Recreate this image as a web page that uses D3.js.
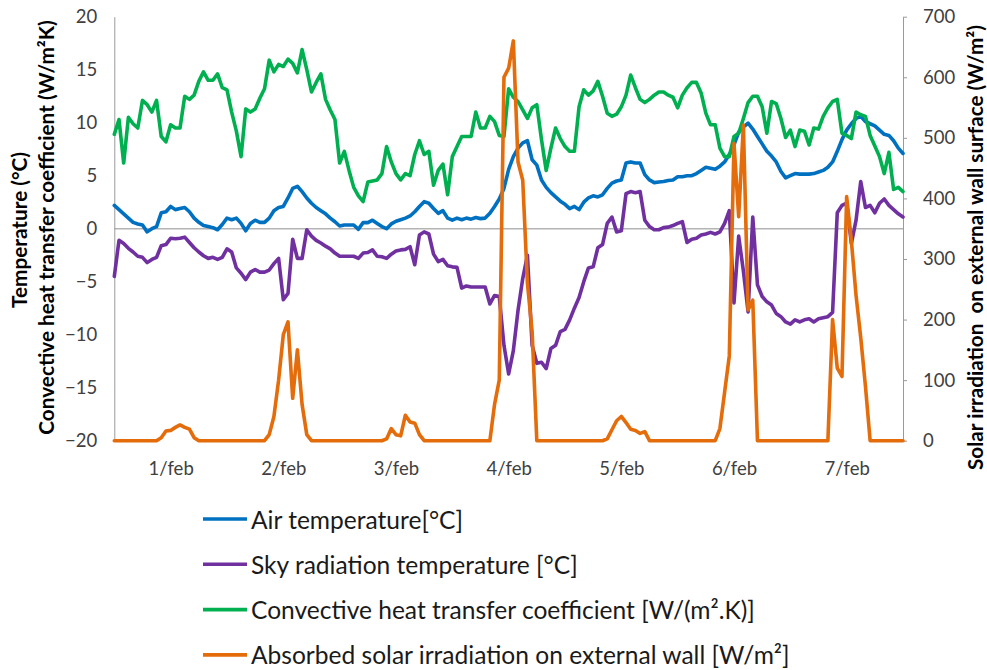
<!DOCTYPE html>
<html>
<head>
<meta charset="utf-8">
<script src="https://cdn.jsdelivr.net/npm/d3@7"></script>
<style>
  body { margin: 0; background: #ffffff; }
  svg { display: block; }
</style>
</head>
<body>
<svg id="chart" width="987" height="670"></svg>
<script>
// Hourly readings, 1 Feb 00:00 through 8 Feb 00:00 (169 values per series)
const dayLabels = ["1/feb", "2/feb", "3/feb", "4/feb", "5/feb", "6/feb", "7/feb"];

const airTemp = [
  2.2, 1.8, 1.4, 1.0, 0.6, 0.45, 0.35, -0.3, 0.0, 0.2, 1.5, 1.6, 2.1, 1.8, 1.9, 2.0, 1.6, 1.0, 0.6, 0.3, 0.2, 0.1, -0.1, 0.4,
  1.0, 0.85, 1.0, 0.5, -0.2, 0.5, 0.8, 0.6, 0.6, 1.0, 1.7, 2.0, 2.1, 2.9, 3.8, 4.0, 3.5, 2.9, 2.4, 2.0, 1.7, 1.4, 1.0, 0.66,
  0.25, 0.35, 0.35, 0.35, -0.06, 0.57, 0.57, 0.8, 0.5, 0.2, 0.0, 0.45, 0.7, 0.85, 1.0, 1.2, 1.6, 2.1, 2.55, 2.4, 1.9, 1.45, 1.7, 1.0,
  0.8, 1.0, 0.85, 1.0, 0.9, 1.05, 0.95, 1.0, 1.45, 2.1, 2.8, 3.8, 5.6, 6.8, 7.6, 8.1, 8.3, 6.5, 6.0, 4.6, 3.9, 3.4, 3.0, 2.6,
  2.3, 1.9, 2.1, 1.8, 2.5, 2.9, 3.1, 3.0, 3.2, 3.8, 4.3, 4.5, 4.6, 6.2, 6.3, 6.2, 6.2, 5.1, 4.6, 4.35, 4.4, 4.45, 4.55, 4.6,
  4.9, 4.9, 5.0, 5.0, 5.2, 5.5, 5.8, 5.7, 5.6, 5.9, 6.3, 7.0, 7.9, 9.1, 9.6, 9.95, 9.4, 8.7, 8.0, 7.3, 6.85, 6.3, 5.4, 4.8,
  5.0, 5.2, 5.15, 5.15, 5.15, 5.2, 5.35, 5.5, 5.8, 6.3, 7.3, 8.4, 9.3, 9.9, 10.4, 10.6, 10.1, 9.9, 9.7, 9.3, 8.9, 8.8, 8.3, 7.6, 7.1
];

const skyTemp = [
  -4.5, -1.1, -1.4, -1.85, -2.2, -2.6, -2.7, -3.2, -2.9, -2.7, -1.6, -1.5, -0.9, -0.95, -0.9, -0.8, -1.3, -1.8, -2.2, -2.55, -2.8, -2.7, -2.9, -2.7,
  -1.9, -2.2, -3.7, -4.2, -4.8, -4.1, -3.85, -4.1, -4.1, -3.9, -3.3, -2.8, -6.7, -6.1, -1.0, -2.8, -2.8, -0.1, -0.7, -1.1, -1.35, -1.65, -1.9, -2.3,
  -2.6, -2.6, -2.6, -2.6, -2.8, -2.3, -2.25, -2.0, -2.6, -2.65, -2.8, -2.4, -2.1, -2.0, -1.95, -1.7, -3.4, -0.6, -0.3, -0.5, -2.4, -3.1, -2.9, -3.5,
  -3.6, -3.65, -5.6, -5.4, -5.5, -5.5, -5.5, -5.5, -7.1, -6.3, -6.4, -11.0, -13.7, -11.5, -7.7, -4.7, -2.5, -11.0, -12.7, -12.6, -13.2, -11.3, -11.0, -9.7,
  -9.5, -8.6, -7.5, -6.5, -5.0, -3.7, -3.6, -1.8, -1.5, 0.5, 1.1, -0.3, -0.2, 3.3, 3.5, 3.4, 3.5, 0.8, 0.2, -0.1, -0.1, 0.1, 0.15, 0.3,
  0.5, 0.66, -1.3, -1.0, -0.9, -0.6, -0.5, -0.35, -0.5, -0.3, 0.5, 1.7, -7.0, -0.7, -4.0, -7.85, 1.1, -5.3, -6.4, -6.9, -7.2, -8.0, -8.3, -8.8,
  -9.0, -8.6, -8.8, -8.6, -8.5, -8.8, -8.5, -8.4, -8.3, -7.9, 1.5, 2.2, 2.4, -1.4, 0.8, 4.45, 2.0, 2.2, 1.5, 2.4, 2.8, 2.2, 1.8, 1.4, 1.1
];

const convCoef = [
  8.9, 10.3, 6.2, 10.5, 9.9, 9.5, 12.1, 11.7, 11.0, 12.1, 8.7, 8.2, 9.8, 9.5, 9.5, 12.5, 12.2, 12.6, 13.9, 14.8, 14.0, 14.0, 14.6, 13.3,
  13.1, 11.0, 9.2, 6.8, 11.3, 11.0, 11.3, 12.3, 13.2, 15.9, 14.8, 15.5, 15.3, 16.0, 15.6, 14.7, 16.9, 15.0, 12.9, 13.8, 14.6, 12.2, 11.2, 10.3,
  6.2, 7.3, 5.5, 3.9, 3.1, 2.55, 4.4, 4.5, 4.6, 5.2, 7.75, 6.3, 5.2, 4.6, 5.2, 5.0, 7.0, 8.3, 7.0, 7.3, 4.1, 5.5, 6.1, 3.2,
  6.8, 7.75, 8.7, 8.7, 8.7, 11.0, 9.5, 9.5, 10.6, 10.1, 8.8, 8.7, 13.2, 12.4, 12.0, 11.2, 10.4, 11.4, 11.7, 8.4, 5.5, 7.6, 9.5, 8.5,
  7.75, 7.3, 7.3, 11.5, 13.1, 12.6, 13.0, 13.9, 12.5, 10.9, 10.6, 10.8, 11.5, 12.6, 14.5, 13.3, 12.2, 11.9, 12.2, 12.6, 12.9, 12.9, 12.6, 12.4,
  11.4, 12.6, 13.3, 13.8, 13.8, 12.8, 10.9, 9.8, 9.8, 7.6, 6.8, 6.8, 8.7, 9.0, 10.4, 11.9, 12.5, 12.5, 11.5, 9.0, 12.0, 11.8, 10.4, 8.6,
  9.3, 7.75, 9.3, 9.2, 7.9, 9.5, 9.4, 10.6, 11.4, 12.0, 12.2, 9.0, 8.8, 8.5, 11.0, 10.75, 10.6, 8.8, 7.8, 6.8, 5.2, 7.2, 3.7, 3.9, 3.5
];

const solarIrr = [
  0, 0, 0, 0, 0, 0, 0, 0, 0, 0, 5, 16, 17, 22, 26, 22, 19, 5, 0, 0, 0, 0, 0, 0,
  0, 0, 0, 0, 0, 0, 0, 0, 0, 10, 40, 100, 175, 196, 70, 150, 60, 10, 0, 0, 0, 0, 0, 0,
  0, 0, 0, 0, 0, 0, 0, 0, 0, 0, 3, 20, 10, 8, 42, 31, 29, 10, 0, 0, 0, 0, 0, 0,
  0, 0, 0, 0, 0, 0, 0, 0, 0, 60, 100, 600, 615, 660, 460, 430, 260, 180, 0, 0, 0, 0, 0, 0,
  0, 0, 0, 0, 0, 0, 0, 0, 0, 3, 18, 33, 40, 30, 19, 17, 12, 15, 0, 0, 0, 0, 0, 0,
  0, 0, 0, 0, 0, 0, 0, 0, 0, 20, 80, 140, 491, 370, 521, 216, 232, 0, 0, 0, 0, 0, 0, 0,
  0, 0, 0, 0, 0, 0, 0, 0, 0, 200, 120, 106, 403, 330, 240, 170, 90, 0, 0, 0, 0, 0, 0, 0, 0
];

const leftTicks = [20, 15, 10, 5, 0, -5, -10, -15, -20];
const rightTicks = [0, 100, 200, 300, 400, 500, 600, 700];

const seriesNames = [
  "Air temperature[°C]",
  "Sky radiation temperature [°C]",
  "Convective heat transfer coefficient [W/(m².K)]",
  "Absorbed solar irradiation on external wall [W/m²]"
];

const leftTitle = ["Temperature (°C)", "Convective heat transfer coefficient (W/m²K)"];
const rightTitle = "Solar irradiation\u00A0 on external wall surface (W/m²)";

// ---- layout ----
const FONT = "Lato, 'Open Sans', sans-serif";
const plot = { left: 114.3, right: 903, top: 16.7, bottom: 440.7 };
const svg = d3.select("#chart");

const x = d3.scaleLinear().domain([0, airTemp.length - 1]).range([plot.left, plot.right]);
const yL = d3.scaleLinear().domain([-20, 20]).range([plot.bottom, plot.top]);
const yR = d3.scaleLinear().domain([0, 700]).range([plot.bottom, plot.top]);

const AXIS_GREY = "#9a9a9a";
const TICK_TEXT = "#404040";

// horizontal axis line crossing at 0
svg.append("line")
  .attr("x1", plot.left).attr("x2", plot.right)
  .attr("y1", yL(0)).attr("y2", yL(0))
  .attr("stroke", "#b4b4b4").attr("stroke-width", 1.6);

// primary (left) axis
const gL = svg.append("g")
  .attr("transform", `translate(${plot.left},0)`)
  .call(d3.axisLeft(yL).tickValues(leftTicks).tickSize(0).tickPadding(17));
gL.attr("font-family", FONT).attr("font-size", 18.5);
gL.select(".domain").attr("stroke", AXIS_GREY).attr("stroke-width", 1);
gL.selectAll("text").attr("fill", TICK_TEXT);

// secondary (right) axis
const gR = svg.append("g")
  .attr("transform", `translate(${plot.right},0)`)
  .call(d3.axisRight(yR).tickValues(rightTicks).tickSizeInner(4).tickSizeOuter(0).tickPadding(16));
gR.attr("font-family", FONT).attr("font-size", 18.5);
gR.select(".domain").attr("stroke", AXIS_GREY).attr("stroke-width", 1);
gR.selectAll(".tick line").attr("stroke", AXIS_GREY);
gR.selectAll("text").attr("fill", TICK_TEXT);

// day labels centred on noon of each day
const dayTicks = dayLabels.map((_, i) => 12 + 24 * i);
const gB = svg.append("g")
  .attr("transform", `translate(0,${plot.bottom})`)
  .call(d3.axisBottom(x).tickValues(dayTicks).tickFormat((d, i) => dayLabels[i]).tickSize(0).tickPadding(21));
gB.attr("font-family", FONT).attr("font-size", 18.5);
gB.select(".domain").remove();
gB.selectAll("text").attr("fill", TICK_TEXT);

// ---- series ----
const series = [
  { name: seriesNames[0], values: airTemp, color: "#0070C0", y: yL },
  { name: seriesNames[1], values: skyTemp, color: "#7030A0", y: yL },
  { name: seriesNames[2], values: convCoef, color: "#00B050", y: yL },
  { name: seriesNames[3], values: solarIrr, color: "#E46C0A", y: yR }
];

series.forEach(s => {
  const line = d3.line().x((d, i) => x(i)).y(d => s.y(d));
  svg.append("path")
    .datum(s.values)
    .attr("d", line)
    .attr("fill", "none")
    .attr("stroke", s.color)
    .attr("stroke-width", 3.6)
    .attr("stroke-linejoin", "round")
    .attr("stroke-linecap", "round");
});

// ---- axis titles ----
function fitWidth(sel, target) {
  const w = sel.node().getBBox().width;
  if (w > 0) sel.attr("font-size", parseFloat(sel.attr("font-size")) * target / w);
}

function axisTitle(text, cx, cy, anchor) {
  return svg.append("text")
    .attr("transform", `translate(${cx},${cy}) rotate(-90)`)
    .attr("text-anchor", anchor)
    .attr("dominant-baseline", "central")
    .attr("font-family", FONT)
    .attr("font-weight", 700)
    .attr("font-size", 17)
    .attr("fill", "#000")
    .text(text);
}

const titleTemp = axisTitle(leftTitle[0], 19, 230, "middle");
const titleConv = axisTitle(leftTitle[1], 46, 227.5, "middle");
// right title reads upward from just below the plot's lower edge
const titleSolar = axisTitle(rightTitle, 975, 470, "start");

// ---- legend ----
const legend = svg.append("g").attr("font-family", FONT);
const rowY = i => 519 + i * 45.3;
const legendTexts = series.map((s, i) => {
  legend.append("line")
    .attr("x1", 203).attr("x2", 247)
    .attr("y1", rowY(i)).attr("y2", rowY(i))
    .attr("stroke", s.color).attr("stroke-width", 3.6);
  return legend.append("text")
    .attr("x", 251).attr("y", rowY(i))
    .attr("dominant-baseline", "central")
    .attr("font-size", 20)
    .attr("fill", "#1a1a1a")
    .text(s.name);
});

function fitAll() {
  titleConv.attr("font-size", 17);
  fitWidth(titleConv, 415);
  const tfs = parseFloat(titleConv.attr("font-size"));
  titleTemp.attr("font-size", tfs);
  titleSolar.attr("font-size", tfs);
  fitWidth(titleSolar, 445);
  legendTexts[1].attr("font-size", 20);
  fitWidth(legendTexts[1], 327);
  const fs = legendTexts[1].attr("font-size");
  legendTexts.forEach(t => t.attr("font-size", fs));
}
fitAll();
if (document.fonts && document.fonts.ready) document.fonts.ready.then(fitAll);
</script>
</body>
</html>
